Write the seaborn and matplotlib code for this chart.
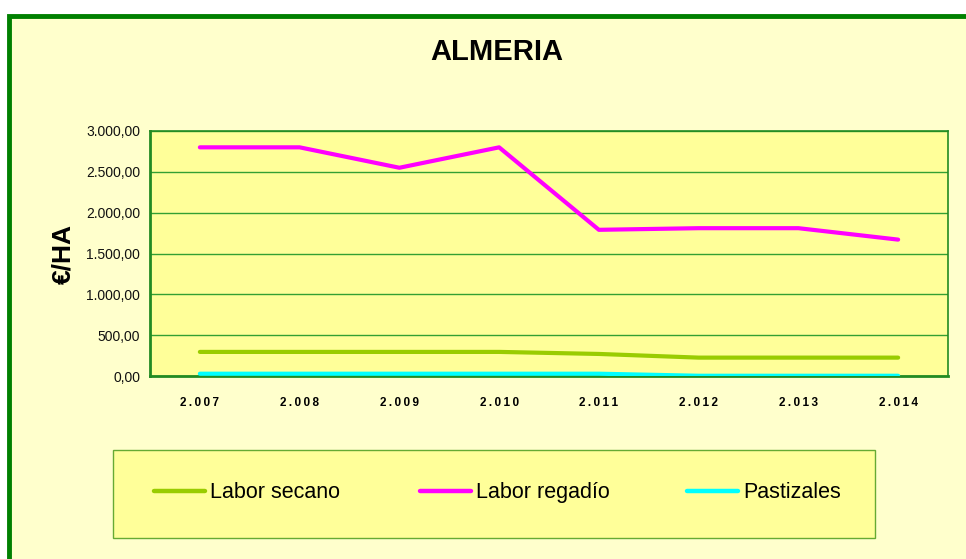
import matplotlib
matplotlib.use("Agg")
import matplotlib.pyplot as plt
from matplotlib.patches import Rectangle
from matplotlib.lines import Line2D
import seaborn as sns
import pandas as pd

years = ["2.007", "2.008", "2.009", "2.010", "2.011", "2.012", "2.013", "2.014"]
labor_secano = [295, 295, 295, 295, 270, 225, 225, 225]
labor_regadio = [2800, 2800, 2550, 2800, 1790, 1810, 1810, 1670]
pastizales = [28, 28, 28, 28, 28, 3, 3, 3]
series_names = ["Labor secano", "Labor regadío", "Pastizales"]
colors = ["#99CC00", "#FF00FF", "#00FFFF"]
yticks = [0, 500, 1000, 1500, 2000, 2500, 3000]
ytick_labels = ["0,00", "500,00", "1.000,00", "1.500,00", "2.000,00", "2.500,00", "3.000,00"]

rows = []
for name, vals in zip(series_names, [labor_secano, labor_regadio, pastizales]):
    for i, (y, v) in enumerate(zip(years, vals)):
        rows.append({"idx": i, "year": y, "value": v, "serie": name})
df = pd.DataFrame(rows)

sns.set_theme(style="white")
plt.rcParams["font.family"] = ["Liberation Sans", "DejaVu Sans"]
plt.rcParams["text.color"] = "black"
plt.rcParams["axes.labelcolor"] = "black"

W, H = 966, 559
fig = plt.figure(figsize=(W / 100, H / 100), dpi=100)
fig.patch.set_facecolor("white")

# outer chart area with thick green border
fig.patches.append(Rectangle((9 / W, -0.2), 1.2, 1 - 16 / H + 0.2, transform=fig.transFigure,
                             facecolor="#FFFFCC", edgecolor="#008000", linewidth=3.5, zorder=-10))

ax = fig.add_axes([150 / W, 1 - 376 / H, (948 - 150) / W, (376 - 131) / H])
ax.set_facecolor("#FFFF99")

sns.lineplot(data=df, x="idx", y="value", hue="serie", palette=colors, linewidth=3,
             ax=ax, legend=False, zorder=3)

spaced = ["\u2009".join(list(y)) for y in years]

ax.set_xlim(-0.5, len(years) - 0.5)
ax.set_ylim(0, 3000)
ax.set_yticks(yticks)
ax.set_yticklabels(ytick_labels, fontsize=10, color="#111111")
ax.set_xticks([i + 0.5 for i in range(len(years) - 1)], minor=False)
ax.set_xticklabels([])
ax.set_xticks(range(len(years)), minor=True)
ax.set_xticklabels(spaced, minor=True, fontsize=8.5, fontweight="bold", color="black")
ax.tick_params(axis="x", which="major", length=4, color="#339933", direction="out", width=1)
ax.tick_params(axis="x", which="minor", length=0, pad=15)
ax.tick_params(axis="y", length=4, color="#339933", direction="out", width=1, pad=3)
ax.set_xlabel("")
ax.set_ylabel("€/HA", fontsize=19, fontweight="bold", labelpad=8, color="black")
ax.grid(axis="y", color="#33A033", linewidth=1)
ax.grid(axis="x", visible=False)
for s in ax.spines.values():
    s.set_color("#228B22")
    s.set_linewidth(1.2)
ax.spines["left"].set_linewidth(2)
ax.spines["bottom"].set_linewidth(2)

fig.text(497 / W, 1 - 52 / H, "ALMERIA", ha="center", va="center", fontsize=21,
         fontweight="bold", color="black")

# legend box
fig.patches.append(Rectangle((113 / W, 1 - 538 / H), (875 - 113) / W, (538 - 450) / H,
                             transform=fig.transFigure, facecolor="#FFFF99",
                             edgecolor="#66AA33", linewidth=1, zorder=1))
legend_x = [154, 420, 687]
for x0, name, c in zip(legend_x, series_names, colors):
    fig.lines.append(Line2D([x0 / W, (x0 + 51) / W], [1 - 491 / H, 1 - 491 / H],
                            transform=fig.transFigure, color=c, linewidth=3.2,
                            solid_capstyle="round", zorder=2))
    fig.text((x0 + 56) / W, 1 - 498 / H, name, ha="left", va="baseline", fontsize=15.5,
             color="black", zorder=3)

fig.savefig("out.png", dpi=100, facecolor="white")
